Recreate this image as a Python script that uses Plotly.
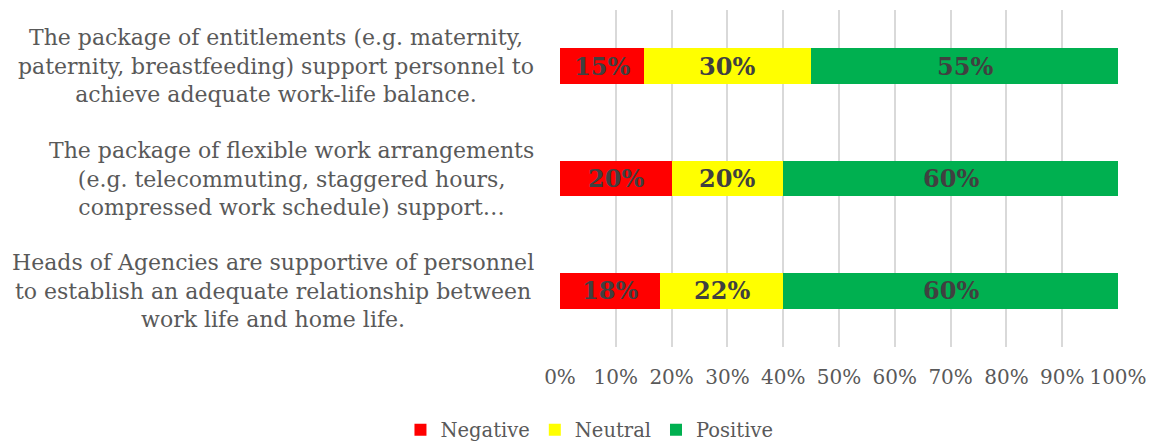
import plotly.graph_objects as go

categories = [
    "The package of entitlements (e.g. maternity,<br>paternity, breastfeeding) support personnel to<br>achieve adequate work-life balance.",
    "The package of flexible work arrangements<br>(e.g. telecommuting, staggered hours,<br>compressed work schedule) support…",
    "Heads of Agencies are supportive of personnel<br>to establish an adequate relationship between<br>work life and home life.",
]
series_names = ["Negative", "Neutral", "Positive"]
negative = [0.15, 0.20, 0.18]
neutral = [0.30, 0.20, 0.22]
positive = [0.55, 0.60, 0.60]
colors = ["#FF0000", "#FFFF00", "#00B050"]
tick_vals = [i / 10 for i in range(11)]
tick_text = [f"{i*10}%" for i in range(11)]

FONT = "DejaVu Serif"
ids = ["c0", "c1", "c2"]

fig = go.Figure()
values = [negative, neutral, positive]
for name, vals, col in zip(series_names, values, colors):
    fig.add_trace(go.Bar(
        y=ids, x=vals, name=name, orientation="h",
        marker=dict(color=col, line=dict(width=0)),
    ))

annotations = []
# data labels
cum = [0.0] * len(ids)
for vals, col in zip(values, colors):
    for i, v in enumerate(vals):
        annotations.append(dict(
            x=cum[i] + v / 2, y=ids[i], xref="x", yref="y",
            text=f"<b>{round(v*100)}%</b>", showarrow=False,
            font=dict(family=FONT, size=24, color="#404040"),
            bgcolor=col, borderpad=1,
        ))
        cum[i] += v
# category labels
for cid, lab in zip(ids, categories):
    annotations.append(dict(
        x=-0.043, y=cid, xref="paper", yref="y", xanchor="right",
        align="center", text=lab, showarrow=False,
        font=dict(family=FONT, size=22, color="#595959"),
    ))

fig.update_layout(
    barmode="stack",
    bargap=0.68,
    width=1156, height=443,
    margin=dict(l=552, r=46, t=2, b=104),
    plot_bgcolor="white", paper_bgcolor="white",
    xaxis=dict(range=[0, 1], tickvals=tick_vals, ticktext=tick_text,
               showgrid=True, gridcolor="#d9d9d9", gridwidth=1.5,
               zeroline=False, showline=False,
               tickfont=dict(family=FONT, size=20, color="#595959"),
               ticks="", ticklabelstandoff=16),
    yaxis=dict(categoryorder="array", categoryarray=ids, autorange="reversed",
               showticklabels=False, showgrid=False, zeroline=False),
    legend=dict(orientation="h", xref="container", yref="container",
                x=0.503, y=0.047, xanchor="center", yanchor="middle",
                traceorder="normal",
                font=dict(family=FONT, size=19.5, color="#595959"),
                itemwidth=30, tracegroupgap=0),
    annotations=annotations,
    showlegend=True,
)

fig.write_html("out.html")
